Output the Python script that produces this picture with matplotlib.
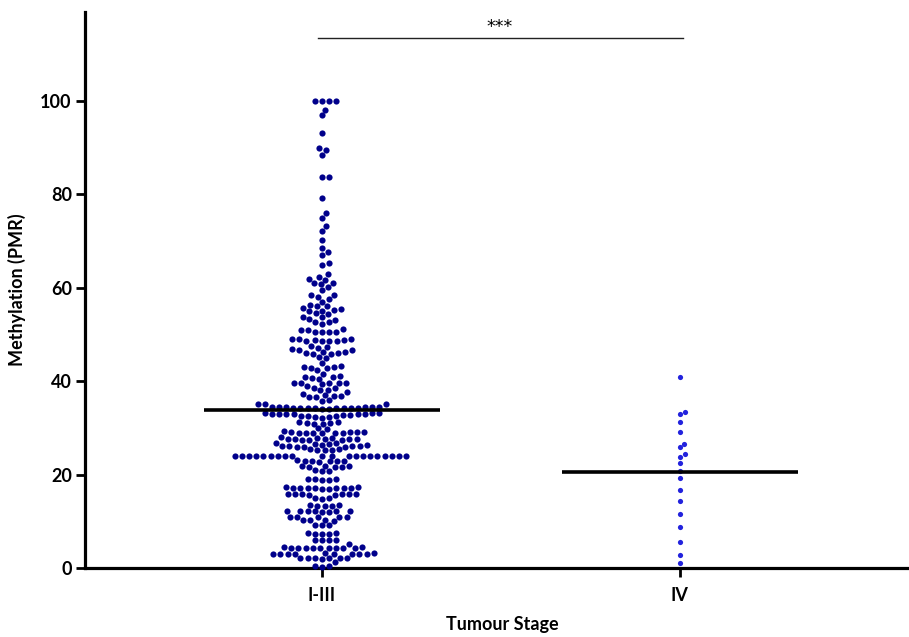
# swarm plot of methylation (PMR) by tumour stage
import numpy as np
import matplotlib
matplotlib.use('Agg')
import matplotlib.pyplot as plt

plt.rcParams['font.family'] = ['Lato', 'DejaVu Sans']

stages = ['I-III', 'IV']

# methylation values, top to bottom
stage_1_3 = [
    100.0, 100.0, 100.0, 100.0,
    98.1, 96.9, 93.1,
    89.8, 89.4, 88.3,
    83.7, 83.6, 79.1,
    75.9, 74.9, 73.2, 72.1, 70.3,
    68.5, 67.6, 66.9, 65.2, 64.9,
    62.9, 62.2, 61.9, 61.7,
    61.0, 61.0, 60.7, 60.2, 59.4,
    58.4, 58.4, 58.1, 57.5, 57.0,
    56.2, 56.0, 56.0, 55.6, 55.4, 55.2, 55.1,
    54.9, 54.5, 54.4, 53.8, 53.8, 53.4,
    53.1, 52.6, 52.6, 52.2,
    51.1, 50.9, 50.9, 50.6, 50.6, 50.6, 50.6,
    49.0, 49.0, 49.0, 48.8, 48.7, 48.5, 48.5, 48.5, 48.5,
    47.6, 47.3, 47.0, 46.8, 46.7, 46.6,
    46.2, 46.2, 46.1, 46.1, 45.9, 45.8,
    45.2, 44.9,
    43.8, 43.3, 43.1, 43.0, 42.8, 42.7, 42.4,
    41.6, 41.0, 40.8, 40.8, 40.6, 40.5,
    39.7, 39.7, 39.7, 39.7, 39.7, 39.3, 39.0, 38.6, 38.6,
    38.1, 38.0, 37.6, 37.3, 37.0, 36.9, 36.9, 36.7, 36.6,
    36.0, 35.8, 35.0, 35.0, 35.0,
    34.5, 34.4, 34.4, 34.3, 34.3, 34.3, 34.2, 34.2,
    34.2, 34.2, 34.1, 34.1, 34.3, 34.4, 34.5, 34.5,
    33.1, 33.0, 33.0, 32.9, 32.9, 32.8, 32.8, 32.9, 33.0, 33.1, 33.2,
    32.6, 32.5, 32.3, 32.2, 32.4, 32.6,
    31.3, 31.1, 30.9, 30.8, 31.0, 31.2,
    29.9, 29.7,
    29.3, 29.2, 29.1, 29.0, 28.9, 28.8, 28.8, 28.9, 29.0, 29.1, 29.2,
    28.1,
    27.8, 27.7, 27.6, 27.5, 27.4, 27.5, 27.6, 27.6, 27.7, 27.8,
    26.8, 26.6, 26.4, 26.2, 26.1, 26.0, 26.0, 26.0, 26.1, 26.2, 26.4, 26.6, 26.8,
    25.4, 25.3, 25.2, 25.3, 25.4,
    24.0, 24.0, 24.0, 24.0, 24.0, 24.0, 24.0, 24.0, 24.0, 24.0,
    24.0, 24.0, 24.0, 24.0, 24.0, 24.0, 24.0, 24.0, 24.0, 24.0,
    23.1, 23.0, 22.9, 22.8, 22.7, 22.9, 23.0,
    21.9, 21.8, 21.6, 21.6, 21.7, 21.9,
    20.9, 20.8, 20.7,
    19.1, 19.0, 18.9, 18.8, 19.0,
    17.3, 17.2, 17.1, 17.1, 17.0, 17.0, 17.1, 17.1, 17.2, 17.2, 17.3,
    15.9, 15.8, 15.8, 15.7, 15.7, 15.8, 15.8, 15.9,
    14.9, 14.8, 14.9,
    13.4, 13.3, 13.2, 13.3, 13.4,
    12.2, 12.1, 12.1, 12.0, 12.0, 12.1, 12.1, 12.2,
    11.0, 11.0, 10.9, 11.0, 11.0,
    10.3, 10.2, 10.1, 10.2,
    9.2, 9.1, 9.2,
    7.4, 7.3, 7.2, 7.3, 7.4,
    6.0, 6.0, 5.9, 6.0,
    5.1,
    4.4, 4.3, 4.3, 4.2, 4.3, 4.3, 4.3, 4.2, 4.3, 4.3, 4.4,
    3.2, 3.1, 3.1, 3.0, 3.1, 3.1, 3.0, 3.1, 3.1, 3.2,
    2.2, 2.1, 2.1, 2.0, 2.1, 2.1, 2.2,
    1.2,
    0.4, 0.3, 0.4,
]

stage_4 = [40.8, 33.3, 33.0, 31.3, 29.1, 26.6, 25.8, 24.4, 23.8, 22.5,
           20.8, 19.2, 16.8, 14.3, 11.6, 8.7, 5.6, 2.8, 1.1]

# level of the horizontal bar drawn over each group
group_lines = [33.8, 20.6]

colors = ['#00008B', '#2222DD']
dot_px = [6.2, 5.2]       # visual dot diameter in pixels
gap_x_px = [7.2, 5.6]     # horizontal spacing inside a row
gap_y_px = [6.0, 5.0]     # vertical distance below which points must step aside


def swarm_offsets(vals, gx, gy, sy):
    # beeswarm with an elliptical keep-out zone, points as close to centre as possible
    y = np.asarray(vals, dtype=float) * sy
    xs = np.zeros(len(y))
    done = []
    for i in np.argsort(y, kind='stable'):
        near = [j for j in done if abs(y[j] - y[i]) < gy]
        cand = [0.0]
        for j in near:
            dx = gx * np.sqrt(1 - ((y[j] - y[i]) / gy) ** 2)
            cand += [xs[j] + dx, xs[j] - dx]
        cand.sort(key=lambda c: (abs(c), -c))
        for c in cand:
            if all(((c - xs[j]) / gx) ** 2 + ((y[i] - y[j]) / gy) ** 2 >= 1 - 1e-6
                   for j in near):
                xs[i] = c
                break
        done.append(i)
    return xs


fig = plt.figure(figsize=(9.09, 6.37), dpi=100)
ax = fig.add_axes([85 / 909, 69 / 637, 834 / 909, 556 / 637])
ax.set_xlim(-0.662, 1.668)
ax.set_ylim(0, 119)

# pixel scale of the data axes
p0 = ax.transData.transform((0, 0))
p1 = ax.transData.transform((1, 1))
sx = p1[0] - p0[0]
sy = p1[1] - p0[1]

for k, vals in enumerate([stage_1_3, stage_4]):
    off = swarm_offsets(vals, gap_x_px[k], gap_y_px[k], sy) / sx
    ms = dot_px[k] / 1.389
    ax.scatter(k + off, vals, s=ms ** 2, color=colors[k], linewidths=0,
               zorder=3, clip_on=False)
    ax.plot([k - 0.33, k + 0.33], [group_lines[k]] * 2, color='black',
            lw=2.6, zorder=4, solid_capstyle='butt')

# significance bar
ax.plot([-0.01, 1.01], [113.5, 113.5], color='#222222', lw=1.0)
ax.text(0.497, 113.9, '***', ha='center', va='bottom', fontsize=12.5,
        family=['DejaVu Sans'])

ax.set_xticks([0, 1])
ax.set_xticklabels(stages)
ax.set_yticks([0, 20, 40, 60, 80, 100])
for s in ['top', 'right']:
    ax.spines[s].set_visible(False)
for s in ['left', 'bottom']:
    ax.spines[s].set_linewidth(2.3)
ax.tick_params(axis='both', width=2.0, length=6.5, labelsize=13)
ax.tick_params(axis='y', pad=3)
ax.tick_params(axis='x', pad=7)
for lab in ax.get_xticklabels() + ax.get_yticklabels():
    lab.set_fontweight('bold')

ax.set_ylabel('Methylation (PMR)', fontsize=13, fontweight='bold', labelpad=10)
ax.set_xlabel('Tumour Stage', fontsize=13, fontweight='bold', labelpad=9)

fig.savefig('out.png', dpi=100)
